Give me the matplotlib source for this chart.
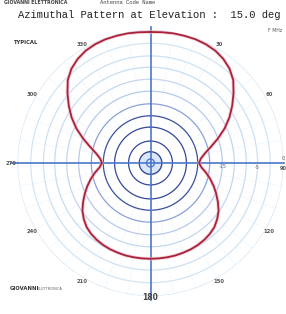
import numpy as np
import matplotlib
matplotlib.use("Agg")
import matplotlib.pyplot as plt

# ---- data ----
# azimuth (deg, clockwise from north) and relative pattern radius (outer ring = 1)
az_half = [0, 5, 10, 15, 20, 25, 30, 35, 40, 45, 50, 55, 60, 65, 70, 75, 80, 85, 90,
           95, 100, 105, 110, 115, 120, 125, 130, 135, 140, 145, 150, 155, 160, 165,
           170, 175, 180]
r_half = [0.985, 0.987, 0.99, 0.99, 0.99, 0.985, 0.975, 0.955, 0.925, 0.88, 0.815,
          0.75, 0.685, 0.615, 0.54, 0.47, 0.415, 0.38, 0.365,
          0.385, 0.425, 0.465, 0.505, 0.545, 0.585, 0.625, 0.655, 0.68, 0.695,
          0.705, 0.712, 0.716, 0.718, 0.72, 0.72, 0.72, 0.72]
ring_r = [0.03, 0.085, 0.165, 0.27, 0.355, 0.445, 0.54, 0.63, 0.72, 0.805, 0.90, 1.0]
ring_colors = ["#4c6fc9", "#2b3f8e", "#34479a", "#34479a", "#3c509f", "#8aa2d6",
               "#b7c9ec", "#c4d6f0", "#c8ddf1", "#cde1f3", "#d2e5f4", "#d2e5f4"]
angle_ticks = [30, 60, 120, 150, 210, 240, 300, 330]
angle_labels = ["30", "60", "120", "150", "210", "240", "300", "330"]
rad_tick_r = [0.545, 0.80]
rad_tick_labels = ["-15", "-5"]
title = "Azimuthal Pattern at Elevation :  15.0 deg"

W, H = 286, 314
fig = plt.figure(figsize=(W / 100, H / 100), dpi=100)
fig.patch.set_facecolor("white")

def fx(px):
    return px / W

def fy(py):
    return 1 - py / H

R = 133.0
cx, cy = 150.5, 163.0
ax = fig.add_axes([fx(cx - R), fy(cy + R), 2 * R / W, 2 * R / H], projection="polar")
ax.set_theta_zero_location("N")
ax.set_theta_direction(-1)
ax.set_ylim(0, 1)
ax.grid(False)
ax.set_xticks([])
ax.set_yticks([])
ax.spines["polar"].set_visible(False)
ax.patch.set_alpha(0)

th = np.linspace(0, 2 * np.pi, 400)
# center fill
ax.fill_between(th, 0, ring_r[1], color="#dbe6f8", zorder=1)
for rr, cc in zip(ring_r, ring_colors):
    ax.plot(th, np.full_like(th, rr), color=cc, lw=0.9, zorder=2)

# spokes every 10 deg
for a in range(0, 360, 10):
    if a % 90 == 0:
        continue
    t = np.deg2rad(a)
    ax.plot([t, t], [0.3, 1.0], color="#d6e6f2", lw=0.5, ls=(0, (1, 2)), zorder=1)

# main axes
for a, r_end in [(0, 1.02), (90, 1.0), (180, 1.03), (270, 1.0)]:
    t = np.deg2rad(a)
    ax.plot([t, t], [0, r_end], color="#4a78c8", lw=1.2, zorder=3, clip_on=False)
ax.plot([np.deg2rad(270)] * 2, [1.0, 1.05], color="#4a78c8", lw=1.2, zorder=3, clip_on=False)

# pattern (mirror the half pattern)
az = np.array(az_half + [360 - a for a in az_half[::-1][1:]])
rp = np.array(r_half + r_half[::-1][1:])
ax.plot(np.deg2rad(az), rp, color="#f2b8c4", lw=2.6, zorder=4, alpha=0.6)
ax.plot(np.deg2rad(az), rp, color="#a8223a", lw=1.3, zorder=5)

# angle labels
for a, lab in zip(angle_ticks, angle_labels):
    ax.text(np.deg2rad(a), 1.03, lab, fontsize=3.8, color="#555555", ha="center",
            va="center", fontweight="bold", clip_on=False)
ax.text(np.deg2rad(270), 1.045, "270", fontsize=3.8, color="#555555", ha="center",
        va="center", fontweight="bold", clip_on=False)
ax.text(np.deg2rad(180), 1.015, "180", fontsize=5.5, color="#444444", ha="center",
        va="center", fontweight="bold", clip_on=False)
for rr, lab in zip(rad_tick_r, rad_tick_labels):
    ax.text(np.deg2rad(92.5), rr, lab, fontsize=3.6, color="#666666", ha="center",
            va="center", clip_on=False)
fig.text(fx(283), fy(169), "90", fontsize=3.6, color="#555555", ha="center", va="center",
         fontweight="bold")
fig.text(fx(283), fy(158), "0", fontsize=3.6, color="#555555", ha="center", va="center")

# header / annotations
fig.text(fx(149), fy(15), title, family="Liberation Mono", fontsize=7.6,
         color="#222222", ha="center", va="center")
fig.text(fx(4), fy(0.3), "GIOVANNI ELETTRONICA", fontsize=3.4, color="#444444",
         ha="left", va="top", fontweight="bold")
fig.text(fx(100), fy(0.3), "Antenna Code Name", family="Liberation Mono", fontsize=4.0,
         color="#444444", ha="left", va="top")
fig.text(fx(13), fy(42), "TYPICAL", fontsize=3.8, color="#333333", ha="left",
         va="center", fontweight="bold")
fig.text(fx(282), fy(30), "F MHz", fontsize=3.3, color="#555555", ha="right", va="center")
fig.text(fx(10), fy(289), "GIOVANNI", fontsize=3.8, color="#333333", ha="left",
         va="center", fontweight="bold")
fig.text(fx(38), fy(289), "ELETTRONICA", fontsize=2.6, color="#666666", ha="left",
         va="center")

fig.savefig("out.png", dpi=100, facecolor="white")
